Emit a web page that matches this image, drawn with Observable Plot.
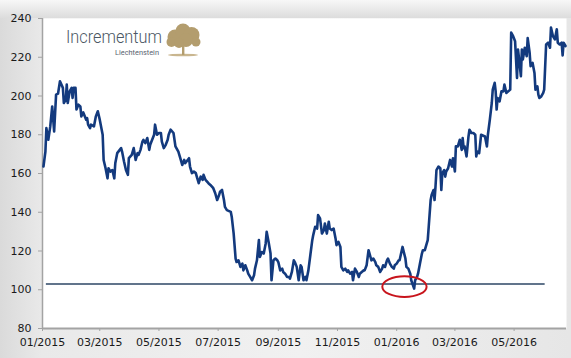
<!DOCTYPE html>
<html>
<head>
<meta charset="utf-8">
<script src="https://cdn.jsdelivr.net/npm/d3@7"></script>
<script src="https://cdn.jsdelivr.net/npm/@observablehq/plot@0.6"></script>
<style>
  html, body { margin: 0; padding: 0; }
  #wrap {
    position: relative; width: 571px; height: 358px; overflow: hidden;
    background:
      linear-gradient(to bottom, #f7f7f7 0px, #dcdcdc 18px, rgba(0,0,0,0) 18px),
      linear-gradient(to right, #dadada 0px, #e9e9e9 42px, #f1f1f1 300px, #e6e6e6 571px);
  }
  #logo { position: absolute; left: 0; top: 0; pointer-events: none; }
</style>
</head>
<body>
<div id="wrap"></div>
<script>
const dates = [
"2015-01-02","2015-01-04","2015-01-05","2015-01-07","2015-01-09","2015-01-11","2015-01-13","2015-01-15","2015-01-17","2015-01-19",
"2015-01-22","2015-01-23","2015-01-25","2015-01-26","2015-01-27","2015-01-29","2015-01-31","2015-02-01","2015-02-02","2015-02-04",
"2015-02-05","2015-02-07","2015-02-09","2015-02-10","2015-02-12","2015-02-15","2015-02-16","2015-02-17","2015-02-19","2015-02-20",
"2015-02-23","2015-02-25","2015-02-27","2015-03-01","2015-03-04","2015-03-05","2015-03-07","2015-03-09","2015-03-10","2015-03-12",
"2015-03-14","2015-03-16","2015-03-17","2015-03-19","2015-03-23","2015-03-24","2015-03-26","2015-03-28","2015-03-30","2015-03-31",
"2015-04-03","2015-04-05","2015-04-07","2015-04-09","2015-04-10","2015-04-12","2015-04-14","2015-04-15","2015-04-17","2015-04-19",
"2015-04-21","2015-04-22","2015-04-26","2015-04-27","2015-04-29","2015-05-01","2015-05-03","2015-05-04","2015-05-06","2015-05-08",
"2015-05-10","2015-05-11","2015-05-13","2015-05-16","2015-05-18","2015-05-20","2015-05-21","2015-05-23","2015-05-25","2015-05-27",
"2015-05-28","2015-06-01","2015-06-02","2015-06-04","2015-06-06","2015-06-08","2015-06-09","2015-06-11","2015-06-13","2015-06-15",
"2015-06-16","2015-06-18","2015-06-21","2015-06-23","2015-06-26","2015-06-28","2015-06-30","2015-07-02","2015-07-03","2015-07-05",
"2015-07-07","2015-07-08","2015-07-10","2015-07-14","2015-07-15","2015-07-17","2015-07-19","2015-07-20","2015-07-22","2015-07-24",
"2015-07-26","2015-07-27","2015-07-29","2015-07-31","2015-08-01","2015-08-03","2015-08-05","2015-08-07","2015-08-08","2015-08-10",
"2015-08-12","2015-08-13","2015-08-15","2015-08-17","2015-08-19","2015-08-20","2015-08-22","2015-08-24","2015-08-25","2015-08-27",
"2015-08-29","2015-08-31","2015-09-01","2015-09-03","2015-09-05","2015-09-06","2015-09-08","2015-09-10","2015-09-12","2015-09-13",
"2015-09-15","2015-09-17","2015-09-18","2015-09-20","2015-09-22","2015-09-24","2015-09-25","2015-09-27","2015-09-29","2015-09-30",
"2015-10-02","2015-10-04","2015-10-06","2015-10-07","2015-10-09","2015-10-11","2015-10-12","2015-10-14","2015-10-16","2015-10-18",
"2015-10-19","2015-10-21","2015-10-23","2015-10-24","2015-10-26","2015-10-28","2015-10-30","2015-10-31","2015-11-02","2015-11-04",
"2015-11-05","2015-11-07","2015-11-09","2015-11-11","2015-11-12","2015-11-14","2015-11-16","2015-11-17","2015-11-19","2015-11-21",
"2015-11-23","2015-11-24","2015-11-26","2015-11-28","2015-11-29","2015-12-01","2015-12-03","2015-12-05","2015-12-06","2015-12-08",
"2015-12-10","2015-12-11","2015-12-13","2015-12-15","2015-12-17","2015-12-18","2015-12-20","2015-12-22","2015-12-23","2015-12-25",
"2015-12-27","2015-12-29","2015-12-30","2016-01-01","2016-01-03","2016-01-04","2016-01-07","2016-01-10","2016-01-11","2016-01-13",
"2016-01-15","2016-01-16","2016-01-19","2016-01-20","2016-01-22","2016-01-23","2016-01-25","2016-01-27","2016-01-28","2016-01-30",
"2016-02-01","2016-02-02","2016-02-03","2016-02-04","2016-02-05","2016-02-06","2016-02-08","2016-02-09","2016-02-10","2016-02-11",
"2016-02-13","2016-02-15","2016-02-16","2016-02-17","2016-02-19","2016-02-20","2016-02-21","2016-02-23","2016-02-25","2016-02-27",
"2016-02-28","2016-03-01","2016-03-02","2016-03-04","2016-03-06","2016-03-08","2016-03-09","2016-03-10","2016-03-11","2016-03-13",
"2016-03-15","2016-03-16","2016-03-18","2016-03-20","2016-03-22","2016-03-23","2016-03-24","2016-03-26","2016-03-28","2016-04-01",
"2016-04-03","2016-04-04","2016-04-06","2016-04-08","2016-04-09","2016-04-11","2016-04-12","2016-04-13","2016-04-14","2016-04-16",
"2016-04-18","2016-04-20","2016-04-21","2016-04-23","2016-04-25","2016-04-27","2016-04-28","2016-04-30","2016-05-02","2016-05-03",
"2016-05-04","2016-05-05","2016-05-06","2016-05-08","2016-05-09","2016-05-10","2016-05-12","2016-05-14","2016-05-15","2016-05-17",
"2016-05-18","2016-05-19","2016-05-20","2016-05-22","2016-05-23","2016-05-25","2016-05-26","2016-05-27","2016-05-29","2016-05-31",
"2016-06-01","2016-06-03","2016-06-05","2016-06-07","2016-06-08","2016-06-10","2016-06-12","2016-06-14","2016-06-15","2016-06-17",
"2016-06-19","2016-06-20","2016-06-21","2016-06-23"
];
const values = [
163.6,171.3,183.4,177.4,184.3,194.6,181.7,200.7,201.2,207.6,
204.2,196.4,198.1,205.9,196.4,202.4,204.2,199,204.2,204.2,
193,195.5,194.6,189.5,191.5,187.8,188.6,185.2,183.4,185.2,
184.3,189.5,192.1,187.8,180,167,162.7,157.5,162.7,161,
161.8,157.5,165.3,170.5,173.1,171.3,166.2,161.8,159.3,167.9,
169.6,173.1,167,170.5,169.6,172.2,176.5,177.4,175.7,178.3,
172.2,174.8,180,185.2,180,180.9,180.9,176.5,173.1,174.8,
177.4,180,182.6,180.9,174,172.2,171.3,167.9,164.4,167,
165.3,167.9,163.6,160.2,161,160.2,158.4,155,158.4,156.7,
159.3,156.7,155,154.1,152.4,149.8,146.3,148.9,150.6,151.5,
146.3,142.8,141.1,140.2,137.7,129,116.1,114.3,115.2,111.8,
113.5,110,112.6,110,108.3,106.6,104.9,107.5,110.9,115.2,
125.6,116.9,119.5,118.7,123.9,129.9,124.7,118.7,104.9,115.2,
116.1,115.2,114.3,110,110.9,109.2,108.3,106.6,106.6,105.7,
109.2,115.2,114.3,111.8,104.9,112.6,111.8,104.9,106.6,104.9,
110,117.8,125.6,128.2,132.5,131.6,138.5,136.8,129,130.8,
134.2,129,135.1,131.6,130.8,131.6,126.5,123,124.7,122.1,
111.8,110,110.9,109.2,110,108.3,109.2,104.9,110.9,109.2,
106.6,108.3,109.2,110,110,112.6,120.4,116.9,115.2,116.1,
114.3,112.6,111.8,109.2,110.9,112.6,111.8,115.2,116.1,113.5,
111.8,110.9,112.6,113.5,115.2,115.2,122.1,116.1,111.8,110.9,
108.3,104.9,100.6,104.9,106.6,108.3,113.5,118.7,120.4,120.4,
123.9,125.6,132.5,139.4,146.3,148.9,151.5,146.3,153.2,161.8,
163.6,162.7,151.5,160.2,161.8,158.4,161,162.7,167,163.6,
167.9,161,174,174,177.4,172.2,178.3,173.1,174,168.8,
179.1,182.6,180.9,180.9,180,168.8,171.3,170.5,180,179.1,
174,180,187.8,196.4,203.3,206.8,202.4,193,199,197.2,
202.4,202.4,205.9,201.6,202.4,203.3,232.7,230.9,228.3,218.8,
209.3,224,219.7,210.2,224,218.8,224.9,220.5,229.9,222.3,
215.4,216.2,217.1,211.9,203.3,205,200.7,199,199.8,201.6,
203.3,226.6,227.5,224.9,235.3,230.9,229.2,234.4,227.5,226.6,
227.5,220.9,227.5,225.8
];
const xTickDates = ["2015-01-01","2015-03-01","2015-05-01","2015-07-01","2015-09-01","2015-11-01","2016-01-01","2016-03-01","2016-05-01"];
const yTicks = [80,100,120,140,160,180,200,220,240];
const xDomain = ["2015-01-01","2016-06-24"];
const supportLevel = [103];
const supportFrom = ["2015-01-05"];
const supportTo = ["2016-06-02"];
const circleDate = ["2016-01-09"];
const circleValue = [101.6];

const series = dates.map((d, i) => ({date: new Date(d), value: values[i]}));
const rule = supportLevel.map((v, i) => ({y: v, x1: new Date(supportFrom[i]), x2: new Date(supportTo[i])}));
const anno = circleDate.map((d, i) => ({date: new Date(d), value: circleValue[i]}));

const ellipseSymbol = {
  draw(ctx, size) {
    const r = Math.sqrt(size / Math.PI);
    const rx = r * 2.15, ry = r;
    const kx = rx * 0.5523, ky = ry * 0.5523;
    ctx.moveTo(rx, 0);
    ctx.bezierCurveTo(rx, ky, kx, ry, 0, ry);
    ctx.bezierCurveTo(-kx, ry, -rx, ky, -rx, 0);
    ctx.bezierCurveTo(-rx, -ky, -kx, -ry, 0, -ry);
    ctx.bezierCurveTo(kx, -ry, rx, -ky, rx, 0);
    ctx.closePath();
  }
};

const chart = Plot.plot({
  width: 571,
  height: 358,
  marginLeft: 42,
  marginRight: 5,
  marginTop: 18,
  marginBottom: 30,
  style: {background: "transparent", fontFamily: "DejaVu Sans", fontSize: "11px", color: "#1a1a1a"},
  x: {type: "utc", domain: xDomain.map(d => new Date(d))},
  y: {domain: [80, 240]},
  marks: [
    Plot.frame({fill: "white", stroke: null}),
    Plot.ruleY(rule, {y: "y", x1: "x1", x2: "x2", stroke: "#2c4664", strokeWidth: 1.6}),
    Plot.ruleX([new Date(xDomain[0])], {stroke: "#a3a3a3", strokeWidth: 1.5}),
    Plot.ruleY([80], {stroke: "#a3a3a3", strokeWidth: 2}),
    Plot.axisY({ticks: yTicks, tickSize: 4, tickPadding: 7, label: null, stroke: "#a3a3a3", fontSize: 11}),
    Plot.axisX({ticks: xTickDates.map(d => new Date(d)), tickFormat: d3.utcFormat("%m/%Y"), tickSize: 3, tickPadding: 7, label: null, stroke: "#a3a3a3", fontSize: 11}),
    Plot.lineY(series, {x: "date", y: "value", stroke: "#133a7e", strokeWidth: 2.6, strokeLinejoin: "round"}),
    Plot.dot(anno, {x: "date", y: "value", r: 10.3, symbol: ellipseSymbol, stroke: "#c8141c", strokeWidth: 2, fill: "none"})
  ]
});

const wrap = document.getElementById("wrap");
wrap.appendChild(chart);

const ns = "http://www.w3.org/2000/svg";
const logo = document.createElementNS(ns, "svg");
logo.setAttribute("id", "logo");
logo.setAttribute("width", "571");
logo.setAttribute("height", "358");
logo.innerHTML = `
  <text x="66" y="43" font-family="Roboto" font-weight="300" font-size="18.5" fill="#4c5764" textLength="96" lengthAdjust="spacingAndGlyphs">Incrementum</text>
  <text x="159" y="54.5" font-family="Roboto" font-size="7.5" fill="#5a6470" text-anchor="end" textLength="44" lengthAdjust="spacingAndGlyphs">Liechtenstein</text>
  <g fill="#b39d6e">
    <ellipse cx="183" cy="55" rx="15" ry="1.3" fill="#c9b68f"/>
    <rect x="182" y="43" width="2.4" height="12"/>
    <circle cx="175" cy="37" r="7.5"/>
    <circle cx="183" cy="31" r="7.5"/>
    <circle cx="191.5" cy="35" r="8"/>
    <circle cx="186" cy="40" r="7"/>
    <circle cx="171.5" cy="42" r="5"/>
    <circle cx="196" cy="42" r="4.5"/>
    <circle cx="179" cy="43" r="5"/>
  </g>`;
wrap.appendChild(logo);
</script>
</body>
</html>
